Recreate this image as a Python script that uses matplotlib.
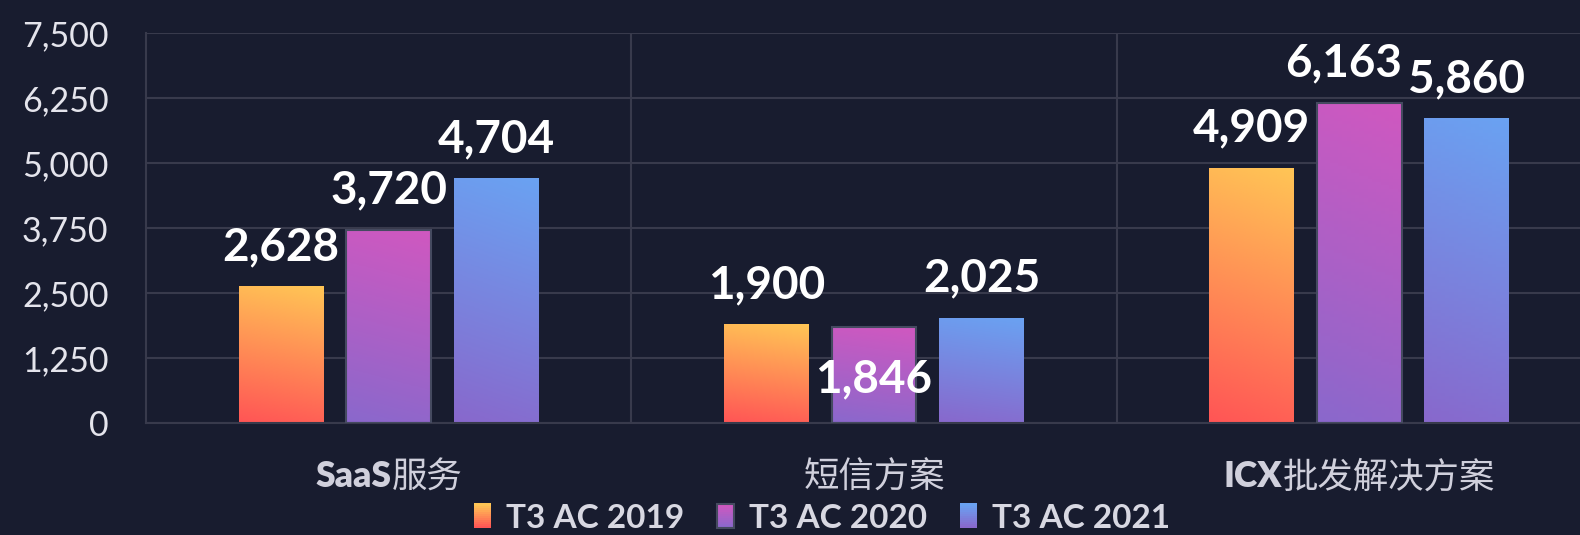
import matplotlib
matplotlib.use("Agg")
import matplotlib.pyplot as plt
import numpy as np
from matplotlib.colors import LinearSegmentedColormap
from matplotlib.patches import Rectangle
from matplotlib.legend_handler import HandlerBase
from matplotlib.offsetbox import TextArea, HPacker, AnnotationBbox

# data
cat_latin = ["SaaS", "", "ICX"]
cat_cjk = ["服务", "短信方案", "批发解决方案"]
series = ["T3 AC 2019", "T3 AC 2020", "T3 AC 2021"]
v2019 = [2628, 1900, 4909]
v2020 = [3720, 1846, 6163]
v2021 = [4704, 2025, 5860]
yticks = [0, 1250, 2500, 3750, 5000, 6250, 7500]

# style
bg = "#181c2f"
grid_c = "#383a4c"
top_cols = ["#ffc555", "#d058c0", "#6aa2f2"]
bot_cols = ["#ff5555", "#8a68cc", "#8868cc"]
edge_cols = ["none", "#454a60", "none"]
# label offsets in points (dx, dy), per series/category
label_dy = [[28, 28, 28], [28, -38, 28], [28, 28, 28]]
label_dx = [[0, 0, 0], [0, 0, -11], [0, 0, 0]]

fig = plt.figure(figsize=(15.8, 5.35), dpi=100, facecolor=bg)
ax = fig.add_axes([146 / 1580, 112 / 535, 1456 / 1580, 390 / 535])
ax.set_facecolor(bg)

values = [v2019, v2020, v2021]
width = 0.175
step = 0.2216
x = np.arange(len(cat_cjk))

for s, vals in enumerate(values):
    cmap = LinearSegmentedColormap.from_list("g%d" % s, [bot_cols[s], top_cols[s]])
    bars = ax.bar(x + (s - 1) * step, vals, width, color="none",
                  edgecolor=edge_cols[s], linewidth=1.5, zorder=3)
    for i, b in enumerate(bars):
        x0, y0 = b.get_x(), b.get_y()
        w, h = b.get_width(), b.get_height()
        # slightly diagonal gradient, bottom -> top
        gy, gx = np.mgrid[0:1:100j, 0:1:20j]
        grad = np.clip(gy * 0.9 + gx * 0.1, 0, 1)
        im = ax.imshow(grad, cmap=cmap, origin="lower", aspect="auto",
                       extent=[x0, x0 + w, y0, y0 + h], zorder=2)
        im.set_clip_path(b)
        ax.annotate(f"{vals[i]:,}", (x0 + w / 2, vals[i]),
                    xytext=(label_dx[s][i], label_dy[s][i]), textcoords="offset points",
                    ha="center", va="center", fontsize=33, fontweight="bold",
                    family="Lato", color="white", zorder=5)

ax.set_xlim(-0.5, 2.5)
ax.set_ylim(0, 7500)
ax.set_yticks(yticks)
ax.set_yticklabels([f"{t:,}" for t in yticks], family="Lato", fontsize=24.5, color="#e4e4ec")
ax.tick_params(axis="y", length=0, pad=27)
ax.set_xticks([])
ax.grid(axis="y", color=grid_c, linewidth=1.5, zorder=0)
for xv in [0.5, 1.5]:
    ax.axvline(xv, color=grid_c, linewidth=1.5, zorder=0)
for sp in ["top", "right"]:
    ax.spines[sp].set_visible(False)
for sp in ["left", "bottom"]:
    ax.spines[sp].set_color(grid_c)
    ax.spines[sp].set_linewidth(1.5)

# category labels: bold latin part + regular CJK part
for i in range(len(cat_cjk)):
    parts = []
    if cat_latin[i]:
        parts.append(TextArea(cat_latin[i], textprops=dict(family="Lato", fontweight="heavy",
                                                           fontsize=25.5, color="#d0d0dc")))
    parts.append(TextArea(cat_cjk[i], textprops=dict(family="Noto Sans CJK SC", fontweight="light",
                                                     fontsize=25.5, color="#d0d0dc")))
    pack = HPacker(children=parts, pad=0, sep=0, align="baseline")
    ab = AnnotationBbox(pack, (x[i], 0), xybox=(0, -39), xycoords="data",
                        boxcoords="offset points", frameon=False, box_alignment=(0.5, 0.5))
    ax.add_artist(ab)


class GradHandler(HandlerBase):
    def __init__(self, top, bot, edge):
        super().__init__()
        self.top, self.bot, self.edge = top, bot, edge

    def create_artists(self, legend, orig_handle, xdescent, ydescent, width, height, fontsize, trans):
        cm = LinearSegmentedColormap.from_list("lg", [self.bot, self.top])
        n = 12
        arts = []
        for k in range(n):
            r = Rectangle((-xdescent, -ydescent + k * height / n), width, height / n + 0.3,
                          facecolor=cm(k / (n - 1)), edgecolor="none", transform=trans)
            arts.append(r)
        if self.edge != "none":
            arts.append(Rectangle((-xdescent, -ydescent), width, height, facecolor="none",
                                  edgecolor=self.edge, linewidth=1.5, transform=trans))
        return arts


handles = [Rectangle((0, 0), 1, 1) for _ in series]
hmap = {h: GradHandler(top_cols[s], bot_cols[s], edge_cols[s]) for s, h in enumerate(handles)}
leg = fig.legend(handles, series, handler_map=hmap, loc="center",
                 bbox_to_anchor=(822 / 1580, 17 / 535), ncol=3, frameon=False,
                 prop=dict(family="Lato", weight="bold", size=24),
                 handlelength=0.5, handleheight=0.75, handletextpad=0.45,
                 columnspacing=1.0, borderpad=0)
for t in leg.get_texts():
    t.set_color("#d8d8e2")

fig.savefig("out.png", dpi=100, facecolor=bg)
